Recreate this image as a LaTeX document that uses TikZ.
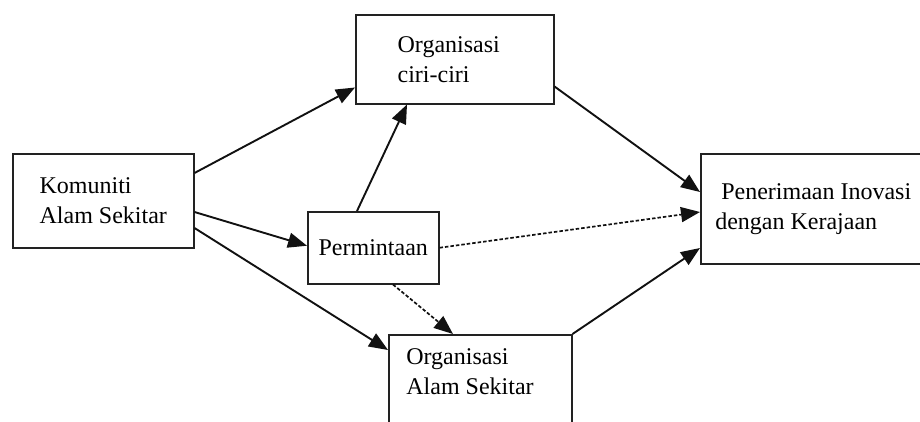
\documentclass[tikz,border=0pt]{standalone}
\usepackage{fontspec}
\setmainfont{Liberation Serif}
\usepackage{tikz}
\usetikzlibrary{arrows.meta}
\definecolor{boxline}{HTML}{222222}
\definecolor{arrline}{HTML}{111111}

\begin{document}
\begin{tikzpicture}[x=1pt,y=-1pt,
  box/.style={draw=boxline,line width=1.5pt,anchor=north west,align=left,
    inner sep=0pt,font=\fontsize{24}{30}\selectfont},
  lbl/.style={align=left,inner sep=0pt,font=\fontsize{24}{30}\selectfont},
  arr/.style={arrline,line width=1.9pt,-{Triangle[length=19pt,width=15pt]}},
  darr/.style={arr,line width=1.7pt,dash pattern=on 3.5pt off 2pt}]
  \useasboundingbox (0,0) rectangle (920,421);
  \clip (0,0) rectangle (920,421);
  \node[box,minimum width=181pt,minimum height=94pt] (kom) at (12,153) {Komuniti\\Alam Sekitar};
  \node[box,minimum width=198pt,minimum height=89pt] (ciri) at (355,14) {Organisasi\hspace*{12pt}\\ciri-ciri};
  \node[box,minimum width=131pt,minimum height=72pt] (perm) at (307,211) {Permintaan};
  \node[box,minimum width=183pt,minimum height=120pt] (oas) at (388,334) {};
  \node[lbl] (oastext) at (470,372) {Organisasi\\Alam Sekitar};
  \node[box,minimum width=225pt,minimum height=110pt] (pen) at (700,153) {\hspace*{6pt}Penerimaan Inovasi\\dengan Kerajaan};
  \draw[arr] ([yshift=-20pt]kom.north east) -- ([yshift=17pt]ciri.south west);
  \draw[arr] ([yshift=-59pt]kom.north east) -- ([yshift=2pt]perm.west);
  \draw[arr] ([yshift=-75pt]kom.north east) -- ([yshift=-16pt]oas.north west);
  \draw[arr] ([xshift=50pt]perm.north west) -- ([xshift=52pt]ciri.south west);
  \draw[arr] ([yshift=18pt]ciri.south east) -- ([yshift=-39pt]pen.north west);
  \draw[darr] (perm.east) -- ([yshift=-59pt]pen.north west);
  \draw[darr] ([xshift=86pt]perm.south west) -- ([xshift=65pt]oas.north west);
  \draw[arr] (oas.north east) -- ([yshift=-95pt]pen.north west);
\end{tikzpicture}
\end{document}
